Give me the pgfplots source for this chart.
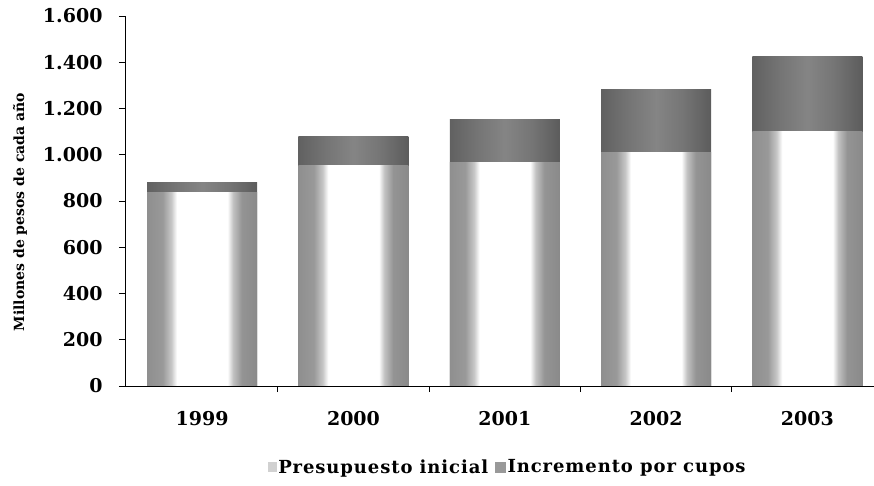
\documentclass[border=0pt]{standalone}
\usepackage{pgfplots}
\pgfplotsset{compat=1.18}
\usepackage{fontspec}
\setmainfont{DejaVu Serif}
\pgfdeclarehorizontalshading{basebar}{100bp}{color(0bp)=(black!44); color(25bp)=(black!44); color(32bp)=(black!40); color(36bp)=(black!22); color(38.5bp)=(white); color(61.5bp)=(white); color(64bp)=(black!24); color(68bp)=(black!42); color(75bp)=(black!46); color(100bp)=(black!46)}
\pgfdeclarehorizontalshading{topbar}{100bp}{color(0bp)=(black!62); color(25bp)=(black!62); color(38bp)=(black!54); color(50bp)=(black!48); color(62bp)=(black!54); color(75bp)=(black!64); color(100bp)=(black!64)}
\begin{document}
\begin{tikzpicture}
\begin{axis}[
  scale only axis, width=749bp, height=370bp,
  ybar, bar width=110bp, bar shift=0pt,
  xmin=-0.51, xmax=4.44, ymin=0, ymax=1600,
  axis x line=bottom, axis y line=left, axis line style={-, line width=1pt},
  axis on top,
  tick align=outside, major tick length=6bp,
  tick style={black, line width=0.8pt},
  xtick={0.5,1.5,2.5,3.5}, xticklabels={},
  extra x ticks={0,1,2,3,4},
  extra x tick labels={1999,2000,2001,2002,2003},
  extra x tick style={major tick length=0pt, tick label style={yshift=-22bp}},
  ytick={0,200,...,1600},
  /pgf/number format/.cd, 1000 sep={.}, assume math mode=true, /pgfplots/.cd,
  tick label style={font=\fontsize{19bp}{22bp}\selectfont\bfseries},
  yticklabel style={xshift=-13bp},
  ylabel={Millones de pesos de cada año},
  ylabel style={at={(axis description cs:-0.14,0.47)}, anchor=center, font=\fontsize{14bp}{16bp}\selectfont\bfseries},
  legend columns=2,
  legend style={at={(axis description cs:0.511,-0.219)}, anchor=center, draw=none, fill=none,
    font=\fontsize{18bp}{21bp}\selectfont\bfseries\addfontfeature{LetterSpace=5},
    /tikz/every even column/.append style={column sep=5bp}},
  legend cell align=left,
]
\addlegendimage{legend image code/.code={\fill[black!18] (0bp,-4.5bp) rectangle (8bp,4.5bp);}}
\addlegendimage{legend image code/.code={\fill[black!40] (0bp,-5bp) rectangle (10bp,5bp);}}
% totals (drawn with the increment shading; base drawn on top)
\addplot[forget plot, shading=topbar, draw=none] coordinates {(0,878)};
\addplot[forget plot, shading=topbar, draw=none] coordinates {(1,1077)};
\addplot[forget plot, shading=topbar, draw=none] coordinates {(2,1153)};
\addplot[forget plot, shading=topbar, draw=none] coordinates {(3,1280)};
\addplot[forget plot, shading=topbar, draw=none] coordinates {(4,1423)};
% presupuesto inicial
\addplot[forget plot, shading=basebar, draw=none] coordinates {(0,835)};
\addplot[forget plot, shading=basebar, draw=none] coordinates {(1,955)};
\addplot[forget plot, shading=basebar, draw=none] coordinates {(2,965)};
\addplot[forget plot, shading=basebar, draw=none] coordinates {(3,1008)};
\addplot[forget plot, shading=basebar, draw=none] coordinates {(4,1100)};
\legend{Presupuesto inicial, Incremento por cupos}
\coordinate (O) at (rel axis cs:0,0);
\end{axis}
\pgfresetboundingbox
\path ([shift={(-125bp,-100bp)}]O) rectangle ++(874bp,486bp);
\end{tikzpicture}
\end{document}
